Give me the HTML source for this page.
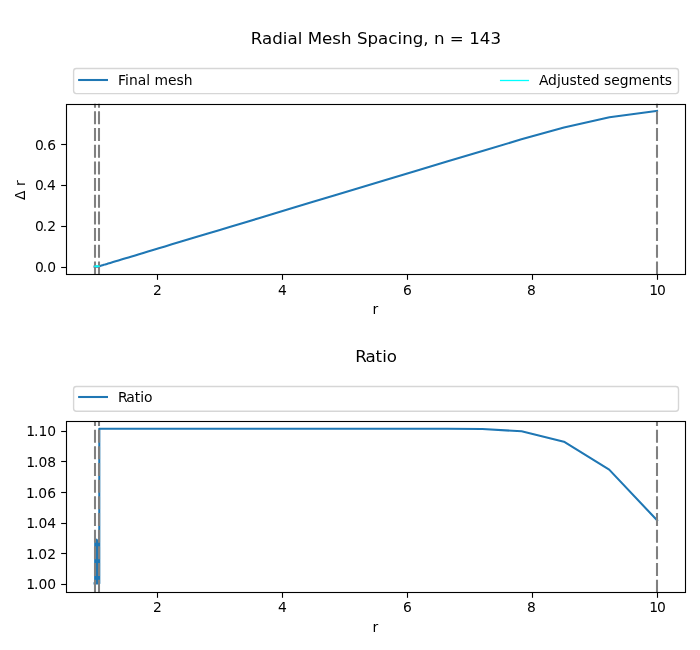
<!DOCTYPE html>
<html lang="en"><head><meta charset="utf-8"><title>Radial Mesh Spacing</title>
<style>html,body{margin:0;padding:0;background:#fff}body{width:700px;height:650px;overflow:hidden}svg{display:block}</style>
</head><body>
<svg width="700" height="650" viewBox="0 0 700 650" font-family="DejaVu Sans, Liberation Sans, sans-serif" font-size="13.889px" fill="#000">
<rect width="700" height="650" fill="#fff"/>
<defs><clipPath id="c1"><rect x="66.45" y="103.55" width="618.75" height="170.84999999999997"/></clipPath><clipPath id="c2"><rect x="66.45" y="421.45" width="618.75" height="170.84999999999997"/></clipPath></defs>
<g clip-path="url(#c1)">
<polyline points="94.58,266.65 99.30,266.65 99.47,266.15 99.70,266.08 99.96,266.00 100.25,265.92 100.56,265.82 100.91,265.72 101.29,265.61 101.70,265.48 102.17,265.34 102.67,265.19 103.23,265.02 103.85,264.84 104.53,264.63 105.27,264.41 106.10,264.16 107.00,263.89 108.00,263.59 109.10,263.26 110.31,262.89 111.64,262.49 113.11,262.05 114.72,261.56 116.50,261.03 118.46,260.44 120.62,259.79 123.00,259.07 125.62,258.28 128.50,257.42 131.68,256.46 135.18,255.41 139.03,254.25 143.27,252.97 147.94,251.57 153.08,250.02 158.75,248.31 164.99,246.43 171.86,244.37 179.43,242.09 187.76,239.58 196.94,236.82 207.05,233.77 218.18,230.42 230.44,226.73 243.95,222.67 258.82,218.20 275.19,213.27 293.23,207.84 313.09,201.86 334.96,195.28 359.05,188.03 385.59,180.04 414.80,171.25 446.98,161.56 482.42,150.90 521.39,139.34 563.95,127.59 609.45,117.20 657.08,110.84" fill="none" stroke="#1f77b4" stroke-width="2.08" stroke-linecap="square" stroke-linejoin="round"/>
<line x1="95.0" y1="274.4" x2="95.0" y2="103.55" stroke="#808080" stroke-width="2.08" stroke-dasharray="13 3.67"/><line x1="99.0" y1="274.4" x2="99.0" y2="103.55" stroke="#808080" stroke-width="2.08" stroke-dasharray="13 3.67"/><line x1="657.0" y1="274.4" x2="657.0" y2="103.55" stroke="#808080" stroke-width="2.08" stroke-dasharray="13 3.67"/>
<ellipse cx="96.95" cy="266.24" rx="3.1" ry="0.95" fill="#00ffff"/>
</g>
<rect x="66.5" y="104.5" width="619.0" height="170.0" fill="none" stroke="#000" stroke-width="1.11" stroke-linejoin="miter"/>
<line x1="157.5" y1="274.5" x2="157.5" y2="279.80" stroke="#000" stroke-width="1.11"/><text x="157.30" y="295.00" text-anchor="middle">2</text><line x1="282.5" y1="274.5" x2="282.5" y2="279.80" stroke="#000" stroke-width="1.11"/><text x="282.30" y="295.00" text-anchor="middle">4</text><line x1="407.5" y1="274.5" x2="407.5" y2="279.80" stroke="#000" stroke-width="1.11"/><text x="407.33" y="295.00" text-anchor="middle">6</text><line x1="532.5" y1="274.5" x2="532.5" y2="279.80" stroke="#000" stroke-width="1.11"/><text x="531.43" y="295.00" text-anchor="middle">8</text><line x1="657.5" y1="274.5" x2="657.5" y2="279.80" stroke="#000" stroke-width="1.11"/><text x="657.54" y="295.00" text-anchor="middle" dx="0 -1">10</text>
<line x1="66.5" y1="267.5" x2="61.15" y2="267.5" stroke="#000" stroke-width="1.11"/><text x="55.98" y="272.00" text-anchor="end" dx="0 -1">0.0</text><line x1="66.5" y1="226.5" x2="61.15" y2="226.5" stroke="#000" stroke-width="1.11"/><text x="56.06" y="231.00" text-anchor="end" dx="0 -1">0.2</text><line x1="66.5" y1="185.5" x2="61.15" y2="185.5" stroke="#000" stroke-width="1.11"/><text x="55.96" y="190.00" text-anchor="end" dx="0 -1">0.4</text><line x1="66.5" y1="144.5" x2="61.15" y2="144.5" stroke="#000" stroke-width="1.11"/><text x="56.00" y="150.00" text-anchor="end" dx="0 -1">0.6</text>
<text x="375.31" y="314.00" text-anchor="middle">r</text>
<text transform="translate(24.90,190.17) rotate(-90)" text-anchor="middle">Δ r</text>
<text x="375.89" y="44.00" text-anchor="middle" font-size="16.667px" textLength="250.25" lengthAdjust="spacing">Radial Mesh Spacing, n = 143</text>
<rect x="73.60" y="68.5" width="604.90" height="25.150000000000006" rx="2.78" ry="2.78" fill="#fff" fill-opacity="0.8" stroke="#ccc" stroke-opacity="0.8" stroke-width="1.39"/>
<line x1="79.16" y1="80.00" x2="106.94" y2="80.00" stroke="#1f77b4" stroke-width="2.08" stroke-linecap="square"/>
<text x="118.10" y="85.00">Final mesh</text>
<text x="672.10" y="85.00" text-anchor="end">Adjusted segments</text>
<line x1="500.6" y1="80.5" x2="528.4" y2="80.5" stroke="#00ffff" stroke-width="1.3" stroke-linecap="square"/>
<g clip-path="url(#c2)">
<polyline points="94.58,583.34 94.63,583.34 94.69,583.34 94.74,583.34 94.80,583.34 94.86,583.34 94.91,583.34 94.97,583.34 95.03,583.34 95.08,583.34 95.14,583.49 95.20,542.18 95.25,583.49 95.31,542.18 95.37,583.49 95.42,542.18 95.48,583.49 95.54,542.18 95.59,583.49 95.65,542.18 95.71,583.49 95.76,542.18 95.82,583.49 95.88,542.00 95.93,583.49 95.99,541.67 96.05,583.49 96.10,541.33 96.16,583.49 96.22,541.00 96.27,583.49 96.33,540.67 96.39,583.49 96.44,540.34 96.50,583.49 96.56,540.00 96.61,583.49 96.67,539.67 96.73,583.49 96.78,539.83 96.84,583.49 96.90,540.16 96.95,583.49 97.01,540.49 97.07,583.49 97.12,540.83 97.18,583.49 97.24,541.16 97.29,583.49 97.35,541.49 97.41,583.49 97.46,541.82 97.52,583.49 97.58,542.16 97.63,583.49 97.69,542.18 97.75,583.49 97.80,542.18 97.86,583.49 97.92,542.18 97.97,583.49 98.03,542.18 98.09,583.49 98.14,542.18 98.20,583.49 98.26,542.18 98.31,583.49 98.37,542.18 98.43,583.49 98.48,542.18 98.54,583.49 98.60,542.18 98.65,583.49 98.71,542.18 98.77,583.49 98.82,542.18 98.88,583.49 98.94,542.18 98.99,583.49 99.05,542.18 99.11,583.49 99.16,542.18 99.22,583.49 99.28,583.49 99.30,428.81 99.47,428.81 99.70,428.81 99.96,428.81 100.25,428.81 100.56,428.81 100.91,428.81 101.29,428.81 101.70,428.81 102.17,428.81 102.67,428.81 103.23,428.81 103.85,428.81 104.53,428.81 105.27,428.81 106.10,428.81 107.00,428.81 108.00,428.81 109.10,428.81 110.31,428.81 111.64,428.81 113.11,428.81 114.72,428.81 116.50,428.81 118.46,428.81 120.62,428.81 123.00,428.81 125.62,428.81 128.50,428.81 131.68,428.81 135.18,428.81 139.03,428.81 143.27,428.81 147.94,428.81 153.08,428.81 158.75,428.81 164.99,428.81 171.86,428.81 179.43,428.81 187.76,428.81 196.94,428.81 207.05,428.81 218.18,428.81 230.44,428.81 243.95,428.81 258.82,428.81 275.19,428.81 293.23,428.81 313.09,428.81 334.96,428.81 359.05,428.81 385.59,428.81 414.80,428.81 446.98,428.81 482.42,428.99 521.60,431.30 563.90,441.69 609.20,469.60 657.08,520.30" fill="none" stroke="#1f77b4" stroke-width="2.08" stroke-linecap="square" stroke-linejoin="round"/>
<line x1="95.0" y1="592.6999999999999" x2="95.0" y2="421.45" stroke="#808080" stroke-width="2.08" stroke-dasharray="13 3.67"/><line x1="99.0" y1="592.6999999999999" x2="99.0" y2="421.45" stroke="#808080" stroke-width="2.08" stroke-dasharray="13 3.67"/><line x1="657.0" y1="592.6999999999999" x2="657.0" y2="421.45" stroke="#808080" stroke-width="2.08" stroke-dasharray="13 3.67"/>
</g>
<rect x="66.5" y="421.5" width="619.0" height="171.0" fill="none" stroke="#000" stroke-width="1.11" stroke-linejoin="miter"/>
<line x1="157.5" y1="592.5" x2="157.5" y2="597.80" stroke="#000" stroke-width="1.11"/><text x="157.30" y="612.00" text-anchor="middle">2</text><line x1="282.5" y1="592.5" x2="282.5" y2="597.80" stroke="#000" stroke-width="1.11"/><text x="282.30" y="612.00" text-anchor="middle">4</text><line x1="407.5" y1="592.5" x2="407.5" y2="597.80" stroke="#000" stroke-width="1.11"/><text x="407.33" y="612.00" text-anchor="middle">6</text><line x1="532.5" y1="592.5" x2="532.5" y2="597.80" stroke="#000" stroke-width="1.11"/><text x="531.43" y="612.00" text-anchor="middle">8</text><line x1="657.5" y1="592.5" x2="657.5" y2="597.80" stroke="#000" stroke-width="1.11"/><text x="657.54" y="612.00" text-anchor="middle" dx="0 -1">10</text>
<line x1="66.5" y1="584.5" x2="61.15" y2="584.5" stroke="#000" stroke-width="1.11"/><text x="56.12" y="589.00" text-anchor="end" dx="0 -1">1.00</text><line x1="66.5" y1="553.5" x2="61.15" y2="553.5" stroke="#000" stroke-width="1.11"/><text x="55.99" y="559.00" text-anchor="end" dx="0 -1">1.02</text><line x1="66.5" y1="523.5" x2="61.15" y2="523.5" stroke="#000" stroke-width="1.11"/><text x="56.07" y="528.00" text-anchor="end" dx="0 -1">1.04</text><line x1="66.5" y1="492.5" x2="61.15" y2="492.5" stroke="#000" stroke-width="1.11"/><text x="55.99" y="498.00" text-anchor="end" dx="0 -1">1.06</text><line x1="66.5" y1="461.5" x2="61.15" y2="461.5" stroke="#000" stroke-width="1.11"/><text x="56.07" y="467.00" text-anchor="end" dx="0 -1">1.08</text><line x1="66.5" y1="431.5" x2="61.15" y2="431.5" stroke="#000" stroke-width="1.11"/><text x="56.10" y="436.00" text-anchor="end" dx="0 -1">1.10</text>
<text x="375.31" y="632.00" text-anchor="middle">r</text>
<text x="376.07" y="362.00" text-anchor="middle" font-size="16.667px" dx="0 -1">Ratio</text>
<rect x="73.60" y="386.5" width="604.90" height="24.80000000000001" rx="2.78" ry="2.78" fill="#fff" fill-opacity="0.8" stroke="#ccc" stroke-opacity="0.8" stroke-width="1.39"/>
<line x1="79.16" y1="397.00" x2="106.94" y2="397.00" stroke="#1f77b4" stroke-width="2.08" stroke-linecap="square"/>
<text x="117.96" y="402.00" dx="0 -1">Ratio</text>
</svg>
</body></html>
